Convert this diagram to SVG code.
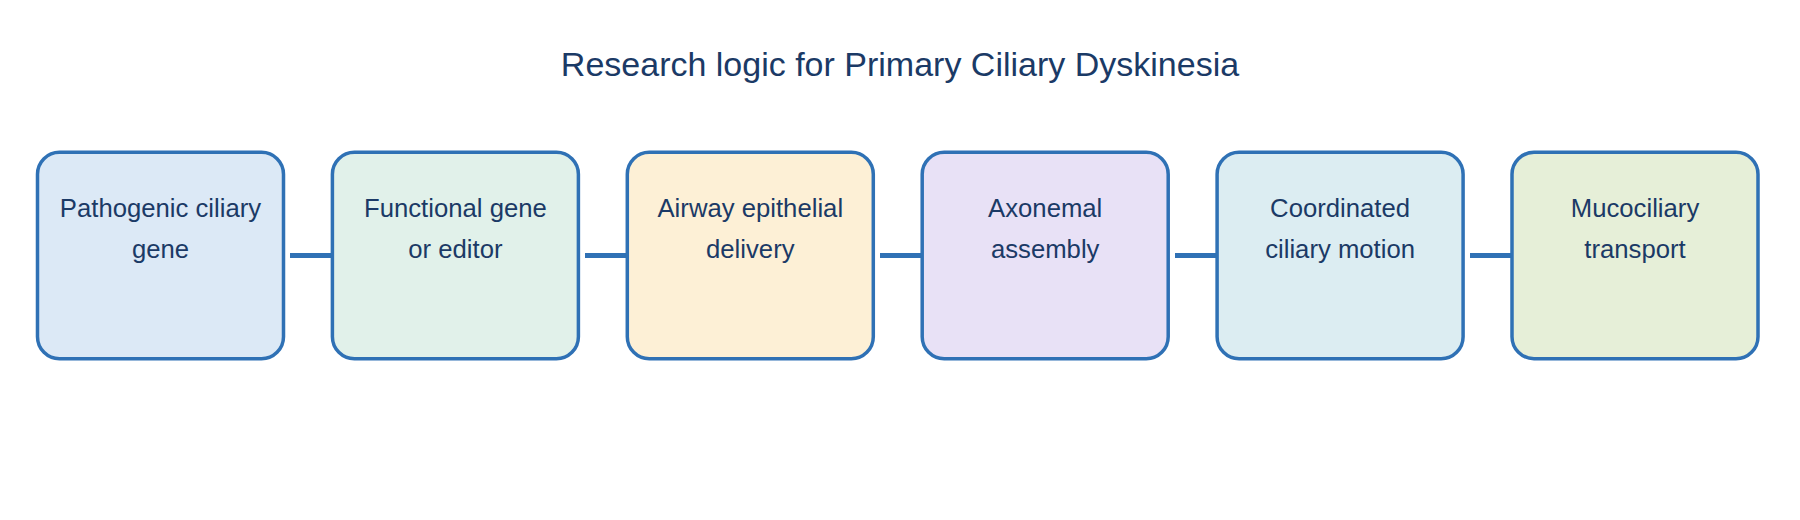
<svg xmlns="http://www.w3.org/2000/svg" width="1800" height="520" viewBox="0 0 1800 520">
<style>
.title{font-family:"Liberation Sans",Arial,sans-serif;font-size:34px;fill:#1b3a66;text-anchor:middle}
.box{stroke:#2f71b5;stroke-width:3.5}
.lbl{font-family:"Liberation Sans",Arial,sans-serif;font-size:25.7px;fill:#1b3a66;text-anchor:middle}
.conn{stroke:#2f71b5;stroke-width:5;fill:none}
</style>
<rect width="1800" height="520" fill="#ffffff"/>
<text class="title" x="900" y="76">Research logic for Primary Ciliary Dyskinesia</text>
<g id="connectors">
<line class="conn" x1="290" y1="255.5" x2="332" y2="255.5"/>
<line class="conn" x1="585" y1="255.5" x2="627" y2="255.5"/>
<line class="conn" x1="880" y1="255.5" x2="922" y2="255.5"/>
<line class="conn" x1="1175" y1="255.5" x2="1217" y2="255.5"/>
<line class="conn" x1="1470" y1="255.5" x2="1512" y2="255.5"/>
</g>
<g id="n1"><rect class="box" x="37.5" y="152.3" width="246" height="206.4" rx="22" fill="#dce9f6"/><text class="lbl" x="160.5" y="216.5">Pathogenic ciliary</text><text class="lbl" x="160.5" y="257.5">gene</text></g>
<g id="n2"><rect class="box" x="332.4" y="152.3" width="246" height="206.4" rx="22" fill="#e1f1ea"/><text class="lbl" x="455.4" y="216.5">Functional gene</text><text class="lbl" x="455.4" y="257.5">or editor</text></g>
<g id="n3"><rect class="box" x="627.3" y="152.3" width="246" height="206.4" rx="22" fill="#fdf0d6"/><text class="lbl" x="750.3" y="216.5">Airway epithelial</text><text class="lbl" x="750.3" y="257.5">delivery</text></g>
<g id="n4"><rect class="box" x="922.2" y="152.3" width="246" height="206.4" rx="22" fill="#e8e1f6"/><text class="lbl" x="1045.2" y="216.5">Axonemal</text><text class="lbl" x="1045.2" y="257.5">assembly</text></g>
<g id="n5"><rect class="box" x="1217.1" y="152.3" width="246" height="206.4" rx="22" fill="#dcedf2"/><text class="lbl" x="1340.1" y="216.5">Coordinated</text><text class="lbl" x="1340.1" y="257.5">ciliary motion</text></g>
<g id="n6"><rect class="box" x="1512" y="152.3" width="246" height="206.4" rx="22" fill="#e6efd8"/><text class="lbl" x="1635" y="216.5">Mucociliary</text><text class="lbl" x="1635" y="257.5">transport</text></g>
</svg>
